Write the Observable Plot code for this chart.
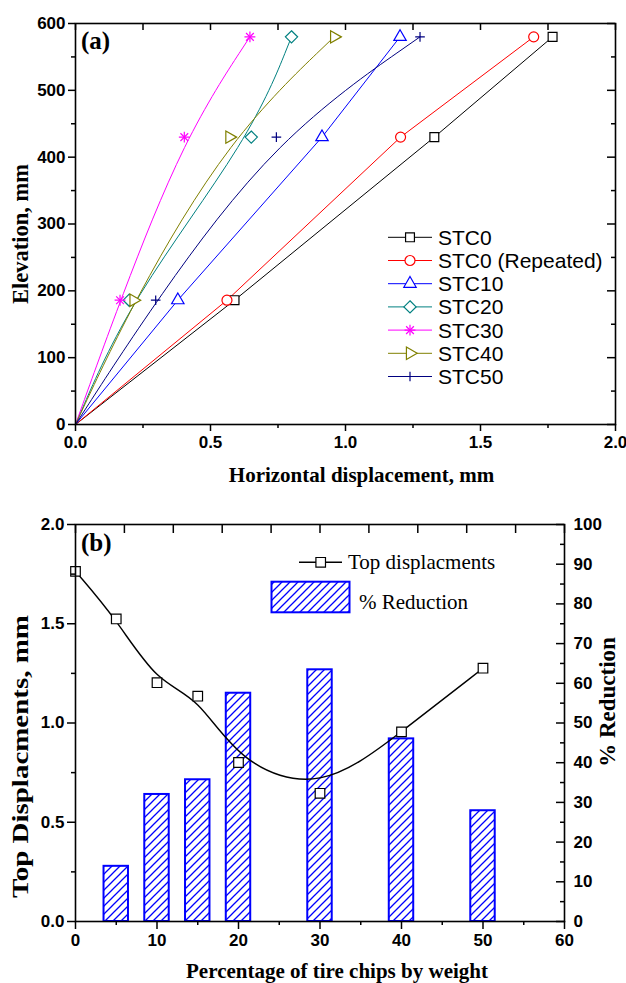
<!DOCTYPE html>
<html><head><meta charset="utf-8">
<script src="https://cdn.jsdelivr.net/npm/d3@7"></script>
<script src="https://cdn.jsdelivr.net/npm/@observablehq/plot@0.6"></script>
<style>
body{margin:0;background:#fff;}
#wrap{position:relative;width:626px;height:983px;overflow:hidden;background:#fff;}
#top,#bot,#ov{position:absolute;left:0;}
#top{top:0px} #bot{top:490px} #ov{top:0px}
</style></head><body>
<div id="wrap"><div id="top"></div><div id="bot"></div><svg id="ov" width="626" height="983"></svg></div>
<script>
// ---------- data: panel (a) ----------
const elevations = [0, 186, 430, 580];
const seriesNames = ["STC0", "STC0 (Repeated)", "STC10", "STC20", "STC30", "STC40", "STC50"];
const dispSTC0  = [0, 0.589, 1.329, 1.767];
const dispSTC0R = [0, 0.561, 1.204, 1.697];
const dispSTC10 = [0, 0.379, 0.913, 1.202];
const dispSTC20 = [0, 0.199, 0.651, 0.800];
const dispSTC30 = [0, 0.165, 0.403, 0.646];
const dispSTC40 = [0, 0.215, 0.570, 0.958];
const dispSTC50 = [0, 0.297, 0.744, 1.276];
const xTicksA = [0, 0.5, 1, 1.5, 2];
const yTicksA = [0, 100, 200, 300, 400, 500, 600];

// ---------- data: panel (b) ----------
const tirePct = [0, 5, 10, 15, 20, 30, 40, 50];
const topDisp = [1.764, 1.524, 1.203, 1.135, 0.801, 0.646, 0.955, 1.276];
const barPct = [5, 10, 15, 20, 30, 40, 50];
const reductionPct = [13.9, 32.0, 35.7, 57.5, 63.4, 46.0, 27.9];
const xTicksB = [0, 10, 20, 30, 40, 50, 60];
const yTicksB = [0, 0.5, 1, 1.5, 2];
const yTicksRight = [0, 10, 20, 30, 40, 50, 60, 70, 80, 90, 100];

// ---------- styles ----------
const allDisp = [dispSTC0, dispSTC0R, dispSTC10, dispSTC20, dispSTC30, dispSTC40, dispSTC50];
const styleA = [
  {color: "#000000", curve: "linear", symbols: [["square", 5, 0]]},
  {color: "#ff0000", curve: "linear", symbols: [["circle", 5, 0]]},
  {color: "#0000ff", curve: "linear", symbols: [["triangle", 4.6, 0]]},
  {color: "#008080", curve: "basis",  symbols: [["diamond2", 5.5, 0]]},
  {color: "#ff00ff", curve: "basis",  symbols: [["plus", 3.6, 0], ["times", 3.6, 0]]},
  {color: "#808000", curve: "basis",  symbols: [["triangle", 4.6, 90]]},
  {color: "#000080", curve: "basis",  symbols: [["plus", 3.2, 0]]}
];
const sansFont = "'Liberation Sans', Arial, sans-serif";
const serifFont = "'Liberation Serif', 'Times New Roman', serif";
const W = 626;

const rowsA = seriesNames.flatMap((s, i) => elevations.map((e, j) => ({series: s, i, elev: e, disp: allDisp[i][j]})));

// ---------- panel (a) ----------
const mA = {t: 23, b: 66, l: 75, r: 11}, hA = 490;
const innerWA = W - mA.l - mA.r, innerHA = hA - mA.t - mA.b;
const marksA = [];
seriesNames.forEach((s, i) => {
  const d = rowsA.filter(r => r.i === i);
  marksA.push(Plot.line(d, {x: "disp", y: "elev", stroke: styleA[i].color, strokeWidth: 1, curve: styleA[i].curve}));
});
seriesNames.forEach((s, i) => {
  const d = rowsA.filter(r => r.i === i && r.elev > 0);
  styleA[i].symbols.forEach(([sym, r, rot]) => {
    marksA.push(Plot.dot(d, {x: "disp", y: "elev", symbol: sym, r, rotate: rot, stroke: styleA[i].color, fill: (sym === "plus" || sym === "times") ? "none" : "white", strokeWidth: 1.2}));
  });
});
marksA.push(
  Plot.frame({strokeWidth: 1.6}),
  Plot.axisX({ticks: xTicksA, tickFormat: d3.format(".1f"), tickSize: 7, tickPadding: 4, label: null, strokeWidth: 1.5}),
  Plot.axisX({ticks: [0.25, 0.75, 1.25, 1.75], tickFormat: () => "", tickSize: 4, label: null, strokeWidth: 1.5}),
  Plot.axisY({ticks: yTicksA, tickSize: 7, tickPadding: 3, label: null, strokeWidth: 1.5}),
  Plot.axisY({ticks: [50, 150, 250, 350, 450, 550], tickFormat: () => "", tickSize: 4, label: null, strokeWidth: 1.5}),
  Plot.ruleX(d3.range(0, 2.001, 0.25), {x: d => d, insetBottom: innerHA - 7, strokeWidth: 1.5}),
  Plot.ruleY(yTicksA, {y: d => d, insetLeft: innerWA - 8, strokeWidth: 1.5}),
  Plot.ruleY([50, 150, 250, 350, 450, 550], {y: d => d, insetLeft: innerWA - 4, strokeWidth: 1.5}),
  Plot.text(["Horizontal displacement, mm"], {text: d => d, frameAnchor: "bottom", textAnchor: "middle", dx: 16, dy: 57, lineAnchor: "bottom", fontFamily: serifFont, fontSize: 21, fontWeight: "bold"}),
  Plot.text(["Elevation, mm"], {text: d => d, frameAnchor: "left", textAnchor: "middle", rotate: -90, dx: -48, dy: 10, lineAnchor: "bottom", fontFamily: serifFont, fontSize: 22.5, fontWeight: "bold"})
);
const plotA = Plot.plot({
  width: W, height: hA, marginTop: mA.t, marginBottom: mA.b, marginLeft: mA.l, marginRight: mA.r,
  x: {domain: [0, 2]}, y: {domain: [0, 600]},
  style: {fontFamily: sansFont, fontSize: "17px", fontWeight: "bold", color: "#000", background: "transparent", overflow: "visible"},
  marks: marksA
});
document.getElementById("top").appendChild(plotA);

// ---------- panel (b) ----------
const mB = {t: 34, b: 62, l: 75, r: 62}, hB = 493;
const innerWB = W - mB.l - mB.r, innerHB = hB - mB.t - mB.b;
const rowsB = tirePct.map((p, i) => ({pct: p, d: topDisp[i]}));
const barsB = barPct.map((p, i) => ({pct: p, red: reductionPct[i]}));
const toLeft = v => v / 50; // % reduction (0-100) onto displacement scale (0-2)
const plotB = Plot.plot({
  width: W, height: hB, marginTop: mB.t, marginBottom: mB.b, marginLeft: mB.l, marginRight: mB.r,
  x: {domain: [0, 60]}, y: {domain: [0, 2]},
  style: {fontFamily: sansFont, fontSize: "17px", fontWeight: "bold", color: "#000", background: "transparent", overflow: "visible"},
  marks: [
    Plot.rect(barsB, {x1: d => d.pct - 1.5, x2: d => d.pct + 1.5, y1: 0, y2: d => toLeft(d.red), fill: "url(#hatchB)", stroke: "#0000ff", strokeWidth: 2}),
    Plot.line(rowsB, {x: "pct", y: "d", curve: "basis", stroke: "#000", strokeWidth: 1.4}),
    Plot.dot(rowsB, {x: "pct", y: "d", symbol: "square", r: 5.4, stroke: "#000", fill: "white", strokeWidth: 1.2}),
    Plot.frame({strokeWidth: 1.6}),
    Plot.axisX({ticks: xTicksB, tickFormat: d3.format("d"), tickSize: 8, tickPadding: 4, label: null, strokeWidth: 1.5}),
    Plot.axisX({ticks: [5, 15, 25, 35, 45, 55], tickFormat: () => "", tickSize: 4, label: null, strokeWidth: 1.5}),
    Plot.axisY({ticks: yTicksB, tickFormat: d3.format(".1f"), tickSize: 8, tickPadding: 3, label: null, strokeWidth: 1.5}),
    Plot.axisY({ticks: [0.25, 0.75, 1.25, 1.75], tickFormat: () => "", tickSize: 4, label: null, strokeWidth: 1.5}),
    Plot.axisY({anchor: "right", ticks: yTicksRight.map(toLeft), tickFormat: d => Math.round(d * 50), tickSize: 0, tickPadding: 9, label: null}),
    Plot.ruleY(yTicksRight.map(toLeft), {y: d => d, insetLeft: innerWB - 8, strokeWidth: 1.5}),
    Plot.ruleY(d3.range(5, 100, 10).map(toLeft), {y: d => d, insetLeft: innerWB - 4, strokeWidth: 1.5}),
    Plot.ruleX(d3.range(0, 61, 6), {x: d => d, insetBottom: innerHB - 9, strokeWidth: 1.5}),
    Plot.text(["Percentage of tire chips by weight"], {text: d => d, frameAnchor: "bottom", textAnchor: "middle", dx: 17, dy: 56, lineAnchor: "bottom", fontFamily: serifFont, fontSize: 21, fontWeight: "bold"}),
    Plot.text(["Top Displacments, mm"], {text: d => d, frameAnchor: "left", textAnchor: "start", rotate: -90, dx: -48, dy: 175, lineAnchor: "bottom", fontFamily: serifFont, fontSize: 23, fontWeight: "bold"}),
    Plot.text(["% Reduction"], {text: d => d, frameAnchor: "right", textAnchor: "middle", rotate: -90, dx: 50, dy: -21, lineAnchor: "bottom", fontFamily: serifFont, fontSize: 23, fontWeight: "bold"})
  ]
});
document.getElementById("bot").appendChild(plotB);

function addHatch(svgSel, id) {
  const defs = svgSel.insert("defs", ":first-child");
  const pat = defs.append("pattern").attr("id", id).attr("patternUnits", "userSpaceOnUse").attr("width", 8).attr("height", 8);
  pat.append("rect").attr("width", 8).attr("height", 8).style("fill", "#ffffff").style("stroke", "none");
  pat.append("path").attr("d", "M-2,2 L2,-2 M0,8 L8,0 M6,10 L10,6")
    .style("stroke", "#0000ff").style("stroke-width", "1.3px").style("fill", "none");
}
addHatch(d3.select(plotB), "hatchB");
d3.select(plotB).selectAll("text").filter(function() { return this.textContent === "Top Displacments, mm"; })
  .attr("textLength", 283).attr("lengthAdjust", "spacingAndGlyphs");

// ---------- overlay: panel labels and legends ----------
const ov = d3.select("#ov");
addHatch(ov, "hatchL");
const symMap = {square: d3.symbolSquare, circle: d3.symbolCircle, triangle: d3.symbolTriangle, diamond2: d3.symbolDiamond2, plus: d3.symbolPlus, times: d3.symbolTimes};
ov.append("text").attr("x", 81).attr("y", 49).attr("font-family", serifFont).attr("font-weight", "bold").attr("font-size", 25).text("(a)");
ov.append("text").attr("x", 81).attr("y", 551).attr("font-family", serifFont).attr("font-weight", "bold").attr("font-size", 25).text("(b)");

seriesNames.forEach((s, i) => {
  const y = 237.3 + i * 23.2;
  ov.append("line").attr("x1", 388).attr("x2", 432).attr("y1", y).attr("y2", y).attr("stroke", styleA[i].color).attr("stroke-width", 1);
  styleA[i].symbols.forEach(([sym, r, rot]) => {
    ov.append("path").attr("d", d3.symbol(symMap[sym], Math.PI * r * r)())
      .attr("transform", `translate(410,${y}) rotate(${rot})`)
      .attr("fill", (sym === "plus" || sym === "times") ? "none" : "white")
      .attr("stroke", styleA[i].color).attr("stroke-width", 1.2);
  });
  ov.append("text").attr("x", 438).attr("y", y + 7.5).attr("font-family", sansFont).attr("font-size", 21).text(s);
});

ov.append("line").attr("x1", 299).attr("x2", 342).attr("y1", 562.3).attr("y2", 562.3).attr("stroke", "#000").attr("stroke-width", 1.4);
ov.append("path").attr("d", d3.symbol(d3.symbolSquare, Math.PI * 5.4 * 5.4)()).attr("transform", "translate(320.7,562.3)")
  .attr("fill", "white").attr("stroke", "#000").attr("stroke-width", 1.2);
ov.append("text").attr("x", 348).attr("y", 569).attr("font-family", serifFont).attr("font-size", 21).text("Top displacments");
ov.append("rect").attr("x", 271.5).attr("y", 581.7).attr("width", 78).attr("height", 30.6)
  .attr("fill", "url(#hatchL)").attr("stroke", "#0000ff").attr("stroke-width", 2);
ov.append("text").attr("x", 359).attr("y", 608.5).attr("font-family", serifFont).attr("font-size", 21).text("% Reduction");
</script>
</body></html>
